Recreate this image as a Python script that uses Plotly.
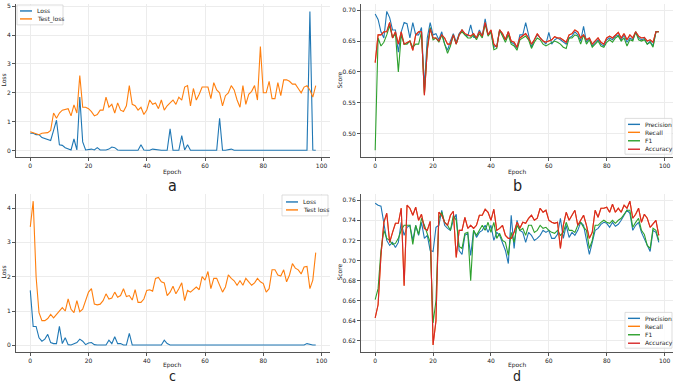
import plotly.graph_objects as go

epochs = list(range(99))

# Panel a
a_loss = [0.6,0.6,0.55,0.55,0.45,0.42,0.4,0.35,0.7,1.05,0.2,0.18,0.1,0.05,0.02,0.4,0.02,1.85,0.3,0.02,
          0.03,0.05,0.02,0.1,0.02,0.02,0.02,0.05,0.12,0.1,0.02,0.01,0.01,0.01,0.01,0.01,0.01,0.01,0.2,0.02,
          0.01,0.01,0.05,0.03,0.01,0.01,0.01,0.01,0.75,0.01,0.01,0.01,0.52,0.02,0.2,0.01,0.01,0.01,0.01,0.01,
          0.01,0.01,0.01,0.01,0.01,1.12,0.01,0.01,0.02,0.05,0.01,0.01,0.01,0.01,0.01,0.01,0.01,0.01,0.01,0.01,
          0.01,0.01,0.01,0.01,0.01,0.01,0.01,0.01,0.01,0.01,0.01,0.01,0.01,0.01,0.01,0.01,4.82,0.02,0.01]
a_test = [0.65,0.62,0.6,0.55,0.6,0.62,0.62,0.7,1.3,1.12,1.3,1.4,1.42,1.45,1.2,1.58,1.3,2.6,1.5,1.5,
          1.45,1.35,1.2,1.25,1.4,1.4,1.85,1.5,1.6,1.3,1.65,1.4,1.35,1.55,2.25,1.6,1.55,1.4,1.5,1.25,
          1.4,1.75,1.6,1.65,1.45,1.75,1.4,1.55,1.65,1.75,1.6,1.85,1.75,2.2,2.25,1.55,2.15,1.75,1.95,2.2,
          2.2,2.2,1.8,2.35,2.1,2.0,1.55,1.9,2.0,2.25,2.1,1.75,1.5,2.25,1.6,1.95,2.05,2.25,1.75,3.6,
          2.0,2.0,2.4,1.8,1.8,2.35,1.9,2.45,2.45,2.4,2.3,2.3,2.15,2.0,2.2,2.25,2.1,1.85,2.25]

# Panel b
b_prec = [0.694,0.685,0.665,0.655,0.698,0.688,0.668,0.668,0.632,0.665,0.68,0.678,0.655,0.68,0.66,0.66,0.672,0.575,0.655,0.68,
          0.66,0.662,0.652,0.665,0.645,0.635,0.65,0.662,0.648,0.662,0.668,0.66,0.658,0.676,0.656,0.655,0.668,0.658,0.686,0.66,
          0.665,0.64,0.642,0.668,0.66,0.652,0.665,0.648,0.645,0.638,0.66,0.66,0.68,0.66,0.64,0.652,0.66,0.655,0.65,0.645,
          0.664,0.645,0.652,0.655,0.652,0.648,0.645,0.655,0.658,0.665,0.66,0.65,0.674,0.648,0.655,0.642,0.648,0.652,0.645,0.642,
          0.652,0.655,0.652,0.658,0.66,0.652,0.66,0.648,0.655,0.652,0.664,0.656,0.652,0.654,0.645,0.65,0.642,0.665,0.665]
b_acc = [0.615,0.66,0.66,0.665,0.665,0.68,0.655,0.665,0.645,0.665,0.645,0.648,0.65,0.635,0.66,0.665,0.665,0.562,0.635,0.67,
         0.655,0.655,0.65,0.66,0.655,0.645,0.645,0.66,0.645,0.66,0.668,0.662,0.66,0.658,0.662,0.655,0.665,0.658,0.68,0.66,
         0.668,0.645,0.64,0.668,0.662,0.652,0.665,0.65,0.648,0.64,0.655,0.658,0.662,0.655,0.645,0.652,0.662,0.655,0.65,0.648,
         0.65,0.652,0.657,0.655,0.655,0.652,0.648,0.66,0.662,0.668,0.665,0.655,0.66,0.652,0.655,0.645,0.65,0.655,0.648,0.645,
         0.655,0.658,0.655,0.66,0.664,0.655,0.662,0.652,0.66,0.655,0.665,0.658,0.655,0.656,0.65,0.652,0.648,0.665,0.665]
b_rec = list(b_acc)
b_f1 = [0.473,0.655,0.642,0.648,0.66,0.675,0.655,0.662,0.6,0.66,0.645,0.645,0.65,0.64,0.645,0.645,0.665,0.565,0.64,0.672,
        0.652,0.655,0.648,0.66,0.645,0.63,0.642,0.66,0.645,0.66,0.665,0.66,0.655,0.655,0.66,0.652,0.662,0.655,0.678,0.658,
        0.665,0.636,0.638,0.668,0.658,0.648,0.66,0.645,0.642,0.635,0.652,0.655,0.658,0.652,0.638,0.648,0.655,0.652,0.645,0.642,
        0.645,0.648,0.65,0.648,0.645,0.64,0.638,0.655,0.655,0.66,0.658,0.645,0.66,0.645,0.652,0.64,0.645,0.65,0.642,0.64,
        0.648,0.652,0.648,0.655,0.658,0.65,0.655,0.642,0.652,0.65,0.665,0.652,0.65,0.652,0.645,0.648,0.64,0.665,0.665]

# Panel c
c_loss = [1.6,0.55,0.55,0.22,0.12,0.18,0.32,0.08,0.05,0.05,0.55,0.05,0.22,0.02,0.01,0.05,0.08,0.18,0.12,0.02,
          0.07,0.08,0.02,0.01,0.01,0.01,0.01,0.15,0.05,0.25,0.05,0.05,0.01,0.01,0.35,0.01,0.01,0.03,0.01,0.01,
          0.01,0.01,0.01,0.01,0.01,0.01,0.15,0.05,0.01,0.01,0.02,0.01,0.01,0.01,0.01,0.01,0.01,0.01,0.01,0.01,
          0.01,0.01,0.01,0.01,0.01,0.01,0.01,0.01,0.01,0.01,0.01,0.01,0.01,0.01,0.01,0.01,0.01,0.01,0.01,0.01,
          0.01,0.01,0.01,0.01,0.01,0.01,0.01,0.01,0.01,0.01,0.01,0.01,0.01,0.01,0.01,0.05,0.02,0.01,0.01]
c_test = [3.45,4.2,2.0,0.95,0.72,0.72,0.78,0.9,0.8,0.9,1.0,1.1,1.0,1.35,1.05,0.95,1.3,0.98,1.05,1.3,
          1.55,1.65,1.2,1.18,1.2,1.3,1.5,1.35,1.38,1.55,1.4,1.45,1.65,1.42,1.45,1.32,1.62,1.25,1.25,1.35,
          1.6,1.62,1.58,1.95,1.98,1.85,1.82,1.45,1.55,1.72,1.5,1.65,1.82,1.3,1.6,1.55,1.62,1.7,1.62,2.0,
          1.9,2.15,1.65,1.95,1.95,1.72,1.55,1.7,2.05,1.95,1.88,1.75,1.88,1.75,1.95,1.85,1.75,1.82,1.95,1.85,
          1.8,1.55,1.65,2.2,2.2,2.05,2.02,2.2,1.85,2.05,2.38,2.25,2.2,2.08,2.28,2.3,1.65,1.9,2.7]

# Panel d
d_prec = [0.757,0.755,0.754,0.735,0.72,0.715,0.718,0.713,0.718,0.738,0.725,0.733,0.735,0.72,0.735,0.725,0.738,0.722,0.725,0.71,
          0.709,0.733,0.735,0.75,0.735,0.732,0.73,0.74,0.746,0.71,0.706,0.725,0.727,0.705,0.73,0.723,0.728,0.73,0.735,0.728,
          0.735,0.72,0.728,0.725,0.718,0.71,0.697,0.745,0.712,0.74,0.73,0.728,0.718,0.728,0.725,0.72,0.722,0.725,0.73,0.728,
          0.73,0.722,0.722,0.726,0.742,0.722,0.735,0.723,0.728,0.725,0.73,0.738,0.735,0.722,0.706,0.718,0.73,0.732,0.736,0.738,
          0.737,0.733,0.738,0.734,0.736,0.74,0.745,0.75,0.747,0.73,0.735,0.738,0.728,0.722,0.716,0.709,0.73,0.728,0.718]
d_acc = [0.643,0.656,0.705,0.738,0.747,0.718,0.728,0.737,0.737,0.752,0.675,0.755,0.752,0.745,0.753,0.74,0.746,0.732,0.73,0.739,
         0.616,0.64,0.748,0.745,0.738,0.735,0.745,0.749,0.703,0.73,0.73,0.743,0.732,0.735,0.732,0.735,0.745,0.745,0.751,0.748,
         0.74,0.751,0.73,0.732,0.735,0.725,0.722,0.722,0.728,0.738,0.732,0.738,0.737,0.742,0.745,0.74,0.742,0.752,0.748,0.75,
         0.74,0.738,0.737,0.738,0.712,0.735,0.748,0.74,0.745,0.75,0.735,0.74,0.745,0.735,0.722,0.728,0.75,0.743,0.752,0.752,
         0.753,0.748,0.756,0.748,0.752,0.748,0.755,0.752,0.759,0.742,0.746,0.752,0.738,0.746,0.742,0.733,0.736,0.74,0.725]
d_rec = list(d_acc)
d_f1 = [0.661,0.672,0.71,0.73,0.722,0.72,0.716,0.717,0.722,0.73,0.735,0.735,0.735,0.716,0.735,0.726,0.742,0.735,0.726,0.718,
        0.638,0.66,0.742,0.748,0.738,0.735,0.73,0.745,0.74,0.714,0.712,0.727,0.728,0.68,0.73,0.725,0.73,0.735,0.73,0.738,
        0.728,0.738,0.722,0.727,0.72,0.718,0.705,0.728,0.718,0.735,0.73,0.732,0.725,0.735,0.735,0.728,0.73,0.735,0.732,0.733,
        0.73,0.728,0.727,0.73,0.725,0.728,0.738,0.73,0.73,0.728,0.735,0.738,0.733,0.73,0.712,0.72,0.735,0.735,0.738,0.74,
        0.738,0.737,0.74,0.737,0.74,0.742,0.746,0.75,0.75,0.733,0.738,0.742,0.73,0.726,0.715,0.712,0.732,0.73,0.72]

x_ticks = [0, 20, 40, 60, 80, 100]
a_yticks = [0, 1, 2, 3, 4, 5]
b_yticks = [0.50, 0.55, 0.60, 0.65, 0.70]
c_yticks = [0, 1, 2, 3, 4]
d_yticks = [0.62, 0.64, 0.66, 0.68, 0.70, 0.72, 0.74, 0.76]

BLUE, ORANGE, GREEN, RED = "#1f77b4", "#ff7f0e", "#2ca02c", "#d62728"
W, H = 676, 384
FONT = "DejaVu Sans"
LABEL_FONT = "Liberation Sans Narrow, DejaVu Sans Condensed, Liberation Sans, sans-serif"

def px_x(p):
    return p / W

def px_y(p):
    return 1 - p / H

fig = go.Figure()

panels = [
    ("x", "y", [("Loss", a_loss, BLUE), ("Test_loss", a_test, ORANGE)]),
    ("x2", "y2", [("Precision", b_prec, BLUE), ("Recall", b_rec, ORANGE), ("F1", b_f1, GREEN), ("Accuracy", b_acc, RED)]),
    ("x3", "y3", [("Loss", c_loss, BLUE), ("Test loss", c_test, ORANGE)]),
    ("x4", "y4", [("Precision", d_prec, BLUE), ("Recall", d_rec, ORANGE), ("F1", d_f1, GREEN), ("Accuracy", d_acc, RED)]),
]
for xa, ya, series in panels:
    for name, vals, col in series:
        fig.add_trace(go.Scatter(x=epochs, y=vals, mode="lines", name=name, showlegend=False,
                                 line=dict(color=col, width=1.1), xaxis=xa, yaxis=ya))

def yrange(arrs):
    lo = min(min(a) for a in arrs)
    hi = max(max(a) for a in arrs)
    m = (hi - lo) * 0.05
    return [lo - m, hi + m]

xr = [-4.9, 102.9]
axis_common = dict(showline=True, linecolor="#555", linewidth=0.8, ticks="outside", ticklen=3,
                   tickcolor="#555", tickwidth=0.8, showgrid=True, gridcolor="#ececec", gridwidth=0.8,
                   zeroline=False, tickfont=dict(family=FONT, size=6, color="#222"), mirror=False)

dom_ax = [px_x(16), px_x(330)]
dom_bx = [px_x(361), px_x(673)]
dom_top = [px_y(156), px_y(2.5)]
dom_bot = [px_y(352), px_y(193)]

fig.update_layout(
    width=W, height=H, margin=dict(l=0, r=0, t=0, b=0),
    paper_bgcolor="white", plot_bgcolor="white", showlegend=False,
    font=dict(family=FONT, size=6, color="#222"),
    xaxis=dict(domain=dom_ax, anchor="y", range=xr, tickvals=x_ticks, **axis_common),
    yaxis=dict(domain=dom_top, anchor="x", range=yrange([a_loss, a_test]), tickvals=a_yticks, **axis_common),
    xaxis2=dict(domain=dom_bx, anchor="y2", range=xr, tickvals=x_ticks, **axis_common),
    yaxis2=dict(domain=dom_top, anchor="x2", range=yrange([b_prec, b_rec, b_f1, b_acc]), tickvals=b_yticks,
                tickformat=".2f", **axis_common),
    xaxis3=dict(domain=dom_ax, anchor="y3", range=xr, tickvals=x_ticks, **axis_common),
    yaxis3=dict(domain=dom_bot, anchor="x3", range=yrange([c_loss, c_test]), tickvals=c_yticks, **axis_common),
    xaxis4=dict(domain=dom_bx, anchor="y4", range=xr, tickvals=x_ticks, **axis_common),
    yaxis4=dict(domain=dom_bot, anchor="x4", range=yrange([d_prec, d_rec, d_f1, d_acc]), tickvals=d_yticks,
                tickformat=".2f", **axis_common),
)

# Matplotlib-style compact legends (box, line samples, labels) in paper pixels
def legend(box, rows_y, line_x, text_x, items):
    x0, y0, x1, y1 = box
    fig.add_shape(type="rect", xref="paper", yref="paper", x0=px_x(x0), x1=px_x(x1), y0=px_y(y1), y1=px_y(y0),
                  line=dict(color="#d4d4d4", width=0.8), fillcolor="rgba(255,255,255,0.85)", layer="above")
    for (name, col), yy in zip(items, rows_y):
        fig.add_shape(type="line", xref="paper", yref="paper", x0=px_x(line_x[0]), x1=px_x(line_x[1]),
                      y0=px_y(yy), y1=px_y(yy), line=dict(color=col, width=1.4), layer="above")
        fig.add_annotation(text=name, x=px_x(text_x), y=px_y(yy), xref="paper", yref="paper", showarrow=False,
                           xanchor="left", yanchor="middle", font=dict(family=FONT, size=6, color="#222"))

legend((17, 3, 63, 23), [9, 17], (20, 32), 35, [("Loss", BLUE), ("Test_loss", ORANGE)])
legend((625, 117, 672, 153), [123, 131, 139.5, 148], (628, 640), 643,
       [("Precision", BLUE), ("Recall", ORANGE), ("F1", GREEN), ("Accuracy", RED)])
legend((282, 194, 328, 215), [201, 209], (286, 298), 301, [("Loss", BLUE), ("Test loss", ORANGE)])
legend((625, 312, 672, 348), [318, 326, 334.5, 343],
       (628, 640), 643, [("Precision", BLUE), ("Recall", ORANGE), ("F1", GREEN), ("Accuracy", RED)])

def ann(text, x, y, size=6, angle=0, family=FONT):
    fig.add_annotation(text=text, x=px_x(x), y=px_y(y), xref="paper", yref="paper", showarrow=False,
                       textangle=angle, font=dict(family=family, size=size, color="#222"),
                       xanchor="center", yanchor="middle")

ann("Epoch", 173, 171)
ann("Epoch", 517, 171)
ann("Epoch", 173, 364.5)
ann("Epoch", 517, 364.5)
ann("Loss", 4, 79, angle=-90)
ann("Loss", 4, 272, angle=-90)
ann("Score", 340, 79, angle=-90)
ann("Score", 340, 272, angle=-90)
ann("a", 173, 184, size=16, family=LABEL_FONT)
ann("b", 517, 184, size=16, family=LABEL_FONT)
ann("c", 173, 375.5, size=14, family=LABEL_FONT)
ann("d", 517, 375.5, size=14, family=LABEL_FONT)

fig.write_html("out.html", config={"displayModeBar": False},
               post_script="document.body.style.margin='0';document.body.style.padding='0';")
